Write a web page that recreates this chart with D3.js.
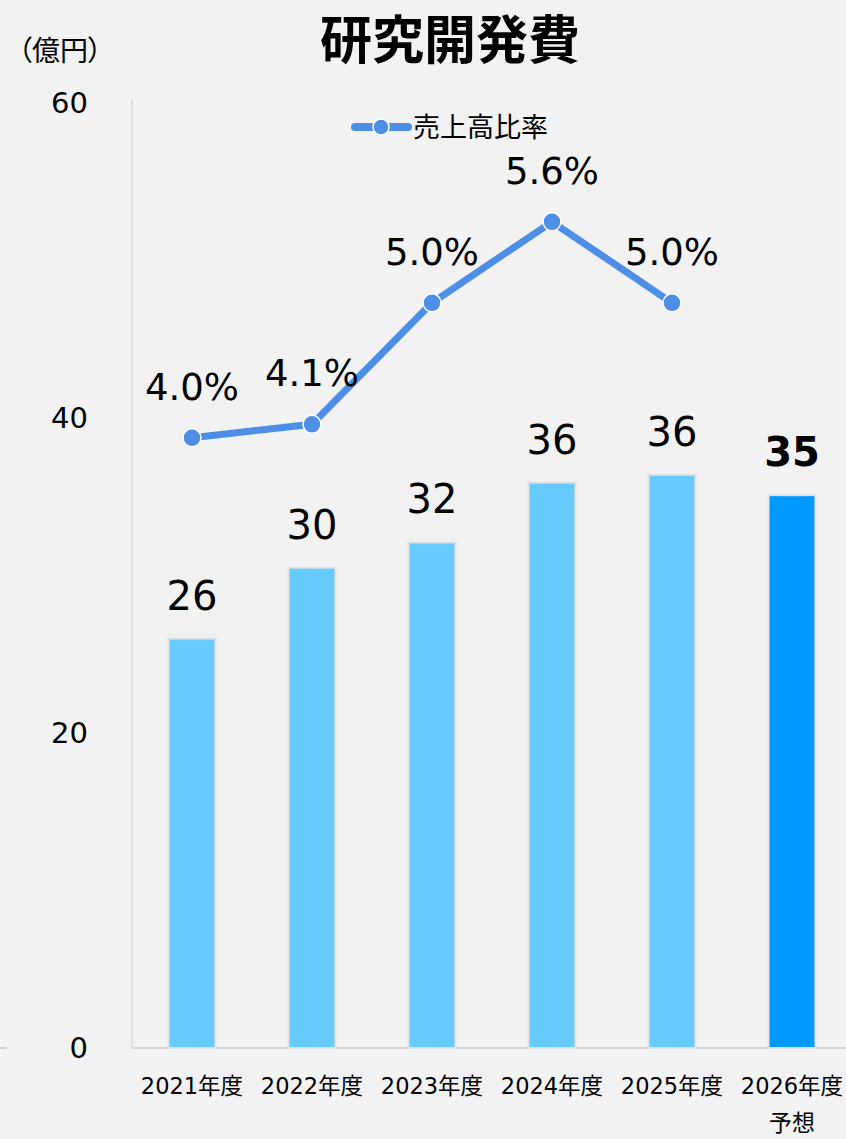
<!DOCTYPE html>
<html>
  <head>
    <meta charset="utf-8">
    <script src="https://d3js.org/d3.v7.min.js"></script>
    <title>研究開発費</title>
    <style>
      body {
        margin: 0;
        background: #f2f2f2;
      }
      svg {
        display: block;
        font-family: "DejaVu Sans", "Noto Sans CJK JP", sans-serif;
        font-feature-settings: "palt";
      }
    </style>
  </head>
  <body>
    <script>

    var width = 846;
    var height = 1139;

    // chart data
    var years = ["2021年度", "2022年度", "2023年度", "2024年度", "2025年度", "2026年度"];
    var spend = [26.0, 30.5, 32.1, 35.9, 36.4, 35.1];      // 億円
    var spendLabels = ["26", "30", "32", "36", "36", "35"];
    var ratio = [4.0, 4.1, 5.0, 5.6, 5.0];                 // 売上高比率 (%)
    var yTicks = [0, 20, 40, 60];

    var svg = d3.select("body")
      .append("svg")
      .attr("width", width)
      .attr("height", height);

    svg.append("rect")
      .attr("width", width)
      .attr("height", height)
      .attr("fill", "#f2f2f2");

    // scales
    var x = d3.scaleBand().domain(years).range([132, 852]);
    var y = d3.scaleLinear().domain([0, 60]).range([1048, 103]);
    // hidden secondary axis for the ratio line
    var y2 = d3.scaleLinear().domain([-0.52, 6.48]).range([1048, 103]);

    // title
    svg.append("text")
      .attr("x", 450)
      .attr("y", 59)
      .attr("text-anchor", "middle")
      .attr("font-family", "Noto Sans CJK JP")
      .attr("font-weight", "bold")
      .attr("font-size", 52)
      .text("研究開発費");

    svg.append("text")
      .attr("x", 18)
      .attr("y", 61)
      .attr("font-family", "Noto Sans CJK JP")
      .attr("font-size", 28)
      .text("（億円）");

    // y axis labels
    svg.selectAll(".ytick")
      .data(yTicks)
      .enter()
      .append("text")
      .attr("class", "ytick")
      .attr("x", 88)
      .attr("y", function(d) { return y(d); })
      .attr("dy", "0.36em")
      .attr("text-anchor", "end")
      .attr("font-size", 29)
      .text(function(d) { return d; });

    // axis lines
    svg.append("line")
      .attr("x1", 132).attr("x2", 132)
      .attr("y1", 100).attr("y2", y(0))
      .attr("stroke", "#d9d9d9")
      .attr("stroke-width", 1.5);
    svg.append("line")
      .attr("x1", 132).attr("x2", width)
      .attr("y1", y(0)).attr("y2", y(0))
      .attr("stroke", "#d9d9d9")
      .attr("stroke-width", 2);
    svg.append("line")
      .attr("x1", 0).attr("x2", 7)
      .attr("y1", y(0)).attr("y2", y(0))
      .attr("stroke", "#d9d9d9")
      .attr("stroke-width", 2);

    // bars
    var barW = x.bandwidth() * 0.39;
    svg.selectAll(".bar")
      .data(spend)
      .enter()
      .append("rect")
      .attr("class", "bar")
      .attr("x", function(d, i) { return x(years[i]) + x.bandwidth() / 2 - barW / 2; })
      .attr("y", function(d) { return y(d); })
      .attr("width", barW)
      .attr("height", function(d) { return y(0) - y(d); })
      .attr("fill", function(d, i) { return i == years.length - 1 ? "#0099ff" : "#66ccff"; })
      .attr("stroke", "#e2e2e2")
      .attr("stroke-width", 2);

    // bar value labels
    svg.selectAll(".barlabel")
      .data(spend)
      .enter()
      .append("text")
      .attr("class", "barlabel")
      .attr("x", function(d, i) { return x(years[i]) + x.bandwidth() / 2; })
      .attr("y", function(d) { return y(d) - 29; })
      .attr("text-anchor", "middle")
      .attr("font-size", 40)
      .attr("font-weight", function(d, i) { return i == years.length - 1 ? "bold" : "normal"; })
      .text(function(d, i) { return spendLabels[i]; });

    // x labels
    svg.selectAll(".xlabel")
      .data(years)
      .enter()
      .append("text")
      .attr("class", "xlabel")
      .attr("x", function(d) { return x(d) + x.bandwidth() / 2; })
      .attr("y", 1094)
      .attr("text-anchor", "middle")
      .attr("font-size", 22.5)
      .text(function(d) { return d; });

    svg.append("text")
      .attr("x", x(years[5]) + x.bandwidth() / 2)
      .attr("y", 1131)
      .attr("text-anchor", "middle")
      .attr("font-family", "Noto Sans CJK JP")
      .attr("font-size", 23)
      .text("予想");

    // ratio line
    var lineColor = "#4d8fe6";
    var line = d3.line()
      .x(function(d, i) { return x(years[i]) + x.bandwidth() / 2; })
      .y(function(d) { return y2(d); });

    svg.append("path")
      .datum(ratio)
      .attr("d", line)
      .attr("fill", "none")
      .attr("stroke", lineColor)
      .attr("stroke-width", 7)
      .attr("stroke-linejoin", "round");

    svg.selectAll(".dot")
      .data(ratio)
      .enter()
      .append("circle")
      .attr("class", "dot")
      .attr("cx", function(d, i) { return x(years[i]) + x.bandwidth() / 2; })
      .attr("cy", function(d) { return y2(d); })
      .attr("r", 9)
      .attr("fill", lineColor)
      .attr("stroke", "#fff")
      .attr("stroke-width", 1.5);

    svg.selectAll(".ratiolabel")
      .data(ratio)
      .enter()
      .append("text")
      .attr("class", "ratiolabel")
      .attr("x", function(d, i) { return x(years[i]) + x.bandwidth() / 2; })
      .attr("y", function(d) { return y2(d) - 38; })
      .attr("text-anchor", "middle")
      .attr("font-size", 37)
      .text(function(d) { return d3.format(".1f")(d) + "%"; });

    // legend
    var legend = svg.append("g").attr("transform", "translate(352,127)");
    legend.append("line")
      .attr("x1", 3).attr("x2", 56)
      .attr("stroke", lineColor)
      .attr("stroke-width", 8)
      .attr("stroke-linecap", "round");
    legend.append("circle")
      .attr("cx", 29)
      .attr("r", 8)
      .attr("fill", lineColor)
      .attr("stroke", "#fff")
      .attr("stroke-width", 1.5);
    legend.append("text")
      .attr("x", 61)
      .attr("dy", "0.36em")
      .attr("font-family", "Noto Sans CJK JP")
      .attr("font-size", 27)
      .text("売上高比率");

    </script>
  </body>
</html>
